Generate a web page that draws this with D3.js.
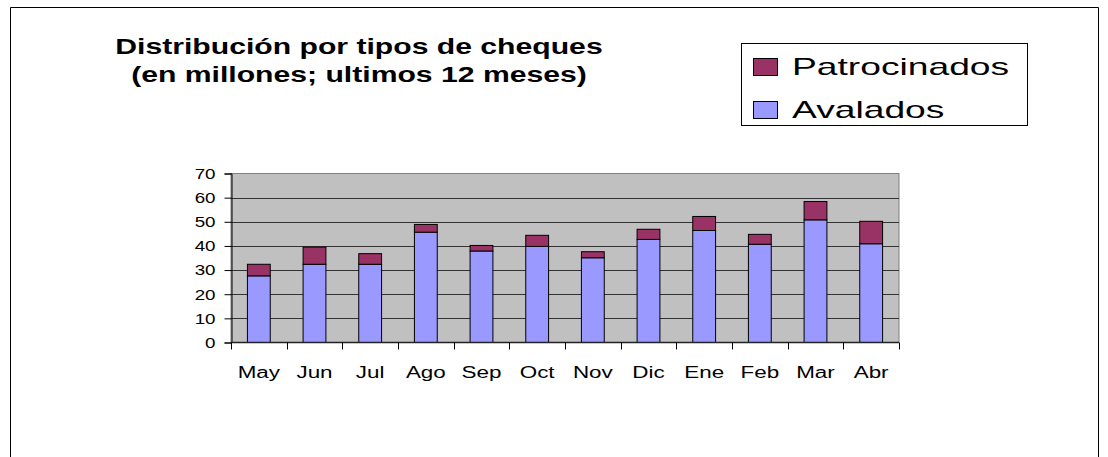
<!DOCTYPE html>
<html>
<head>
<meta charset="utf-8">
<script src="https://cdn.jsdelivr.net/npm/d3@7"></script>
<style>
  body { margin: 0; background: #fff; }
  svg { display: block; font-family: "Liberation Sans", Arial, sans-serif; }
</style>
</head>
<body>
<svg id="chart" width="1108" height="457"></svg>
<script>
const months = ['May', 'Jun', 'Jul', 'Ago', 'Sep', 'Oct', 'Nov', 'Dic', 'Ene', 'Feb', 'Mar', 'Abr'];
const avalados = [27.6, 32.4, 32.4, 45.7, 37.9, 39.8, 35.1, 42.7, 46.4, 40.7, 50.8, 40.9];
const patrocinados = [4.8, 7.1, 4.4, 3.2, 2.3, 4.6, 2.5, 4.2, 5.8, 4.1, 7.6, 9.3];
const yTicks = [0, 10, 20, 30, 40, 50, 60, 70];
const seriesNames = ['Avalados', 'Patrocinados'];
const colors = { Avalados: '#9999ff', Patrocinados: '#993366' };

// the original's text is drawn wide, so stretch it a bit
function stretch(sel, k) {
    sel.each(function() {
        const len = this.getComputedTextLength();
        d3.select(this).attr('textLength', len * k).attr('lengthAdjust', 'spacingAndGlyphs');
    });
}

const svg = d3.select('#chart');

// outer frame (open at the bottom)
svg.append('path')
    .attr('d', 'M10.5,457 V7.5 H1098.5 V457')
    .attr('fill', 'none')
    .attr('stroke', '#000')
    .attr('stroke-width', 1);

const L = 231, R = 899, T = 173.5, B = 342.5;

const x = d3.scaleBand().domain(months).range([L, R]).paddingInner(0.59).paddingOuter(0.295);
const xb = d3.scaleBand().domain(months).range([L, R]);
const y = d3.scaleLinear().domain([0, 70]).range([B, T]);

// plot background
svg.append('rect')
    .attr('x', L).attr('y', T)
    .attr('width', R - L).attr('height', B - T)
    .attr('fill', '#c0c0c0')
    .attr('stroke', '#808080');

// gridlines
svg.append('g')
    .selectAll('line')
    .data(yTicks.slice(1, -1))
    .enter()
    .append('line')
    .attr('x1', L).attr('x2', R)
    .attr('y1', d => Math.round(y(d)) + 0.5)
    .attr('y2', d => Math.round(y(d)) + 0.5)
    .attr('stroke', '#333')
    .attr('stroke-width', 1);

// stacked bars
const rows = months.map((m, i) => ({ month: m, Avalados: avalados[i], Patrocinados: patrocinados[i] }));
const stack = d3.stack().keys(seriesNames)(rows);

svg.append('g')
    .selectAll('g')
    .data(stack)
    .enter()
    .append('g')
    .attr('fill', d => colors[d.key])
    .selectAll('rect')
    .data(d => d)
    .enter()
    .append('rect')
    .attr('x', d => x(d.data.month))
    .attr('y', d => y(d[1]))
    .attr('width', x.bandwidth())
    .attr('height', d => y(d[0]) - y(d[1]))
    .attr('stroke', '#000')
    .attr('stroke-width', 1);

// y axis
const yAxis = d3.axisLeft(y).tickValues(yTicks).tickSize(7).tickPadding(9);
const gy = svg.append('g')
    .attr('transform', `translate(${L + 0.5},0)`)
    .call(yAxis);
gy.select('.domain').attr('stroke', '#000');
gy.selectAll('.tick text')
    .attr('font-size', 15)
    .attr('font-family', '"Liberation Sans", Arial, sans-serif')
    .attr('fill', '#000')
    .call(stretch, 1.25);

// x axis with ticks at category boundaries
svg.append('line')
    .attr('x1', L).attr('x2', R)
    .attr('y1', B).attr('y2', B)
    .attr('stroke', '#222')
    .attr('stroke-width', 1.5);

svg.append('g')
    .selectAll('line')
    .data(months.concat(['end']))
    .enter()
    .append('line')
    .attr('x1', (d, i) => i < months.length ? Math.round(xb(d)) + 0.5 : R + 0.5)
    .attr('x2', (d, i) => i < months.length ? Math.round(xb(d)) + 0.5 : R + 0.5)
    .attr('y1', B).attr('y2', B + 7)
    .attr('stroke', '#000');

svg.append('g')
    .selectAll('text')
    .data(months)
    .enter()
    .append('text')
    .attr('x', d => xb(d) + xb.bandwidth() / 2)
    .attr('y', 378)
    .attr('text-anchor', 'middle')
    .attr('font-size', 16)
    .text(d => d)
    .call(stretch, 1.4);

// title
const title = svg.append('text')
    .attr('text-anchor', 'middle')
    .attr('font-weight', 'bold')
    .attr('font-size', 22);
title.append('tspan').attr('x', 359).attr('y', 54).text('Distribución por tipos de cheques');
title.append('tspan').attr('x', 359).attr('y', 82).text('(en millones; ultimos 12 meses)');
stretch(title.selectAll('tspan'), 1.37);

// legend
const lg = svg.append('g');
lg.append('rect')
    .attr('x', 741.5).attr('y', 43.5)
    .attr('width', 286).attr('height', 82)
    .attr('fill', '#fff')
    .attr('stroke', '#000');

const legendItems = ['Patrocinados', 'Avalados'];
const li = lg.selectAll('g')
    .data(legendItems)
    .enter()
    .append('g')
    .attr('transform', (d, i) => `translate(0,${i * 43})`);

li.append('rect')
    .attr('x', 753.5).attr('y', 58.5)
    .attr('width', 24).attr('height', 17)
    .attr('fill', d => colors[d])
    .attr('stroke', '#000');

li.append('text')
    .attr('x', 792)
    .attr('y', 75)
    .attr('font-size', 24)
    .text(d => d)
    .call(stretch, 1.55);
</script>
</body>
</html>
